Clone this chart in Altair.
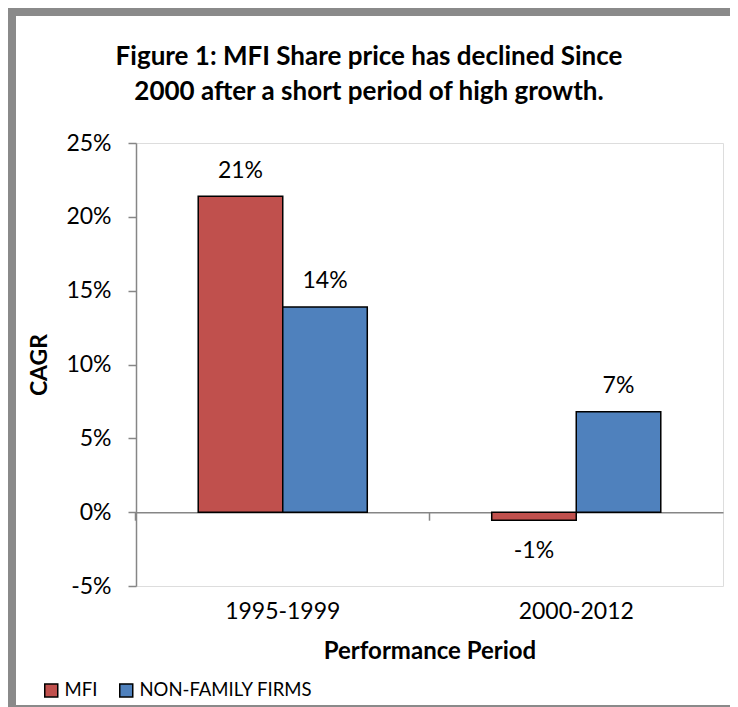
import altair as alt
import pandas as pd

periods = ["1995-1999", "2000-2012"]
series = ["MFI", "NON-FAMILY FIRMS"]
mfi_cagr = [21.4, -0.55]
nonfamily_cagr = [13.9, 6.8]
y_ticks = [-5, 0, 5, 10, 15, 20, 25]
title_lines = ["Figure 1: MFI Share price has declined Since",
               "2000 after a short period of high growth."]
colors = ["#C0504D", "#4F81BD"]

rows = []
for i, p in enumerate(periods):
    rows.append({"period": p, "series": series[0], "cagr": mfi_cagr[i]})
    rows.append({"period": p, "series": series[1], "cagr": nonfamily_cagr[i]})
df = pd.DataFrame(rows)

W, H = 587, 443
FONT = "Lato"
GRAY = "#868686"
FRAME = "#8a8a8a"
P_IN, P_OUT = 0.424, 0.212
BAND_POS = -P_OUT / (1 - P_IN)

base = alt.Chart(df).encode(
    x=alt.X("period:N", sort=periods,
            scale=alt.Scale(paddingInner=P_IN, paddingOuter=P_OUT),
            axis=alt.Axis(title="Performance Period", labelAngle=0, offset=-73.8,
                          bandPosition=BAND_POS, tickSize=8, tickColor=GRAY,
                          domainColor=GRAY, domainWidth=1.5, tickWidth=1.5,
                          labelFontSize=23, labelFont=FONT, labelColor="black",
                          labelPadding=80, titleFontSize=24, titleFont=FONT,
                          titleFontWeight="bold", titleColor="black", titlePadding=16,
                          grid=False)),
    xOffset=alt.XOffset("series:N", sort=series,
                        scale=alt.Scale(paddingInner=0, paddingOuter=0)),
    y=alt.Y("cagr:Q", scale=alt.Scale(domain=[-5, 25], nice=False, zero=False),
            axis=alt.Axis(values=y_ticks, labelExpr="datum.value + '%'", title="CAGR",
                          tickSize=8, tickColor=GRAY, domainColor=GRAY, domainWidth=1.5,
                          tickWidth=1.5, labelFontSize=23, labelFont=FONT,
                          labelColor="black", labelPadding=17, titleFontSize=23,
                          titleFont=FONT, titleFontWeight="bold", titleColor="black",
                          titlePadding=14, grid=False)),
)

bars = base.mark_bar(stroke="black", strokeWidth=1.5).encode(
    color=alt.Color("series:N", sort=series,
                    scale=alt.Scale(domain=series, range=colors),
                    legend=alt.Legend(title=None, orient="none", legendX=-94, legendY=538,
                                      direction="horizontal", symbolType="square",
                                      symbolSize=169, symbolStrokeColor="black",
                                      symbolStrokeWidth=1.5, labelFontSize=18.5,
                                      labelFont=FONT, labelColor="black", labelLimit=400,
                                      columnPadding=18, labelOffset=4))
)

pos_labels = base.transform_filter("datum.cagr >= 0").transform_calculate(
    label="round(datum.cagr) + '%'"
).mark_text(dy=-18.5, baseline="alphabetic", fontSize=23, font=FONT, color="black").encode(
    text="label:N")

neg_labels = base.transform_filter("datum.cagr < 0").transform_calculate(
    label="round(datum.cagr) + '%'"
).mark_text(dy=38, baseline="alphabetic", fontSize=23, font=FONT, color="black").encode(
    text="label:N")

one = pd.DataFrame({"f": [0]})
frame_left = alt.Chart(one).mark_rect(fill=FRAME).encode(
    x=alt.value(-128), x2=alt.value(-120), y=alt.value(-135), y2=alt.value(570))
frame_top = alt.Chart(one).mark_rect(fill=FRAME).encode(
    x=alt.value(-128), x2=alt.value(594), y=alt.value(-135), y2=alt.value(-127))
frame_bottom = alt.Chart(one).mark_rect(fill=FRAME).encode(
    x=alt.value(-128), x2=alt.value(594), y=alt.value(562), y2=alt.value(570))

title = alt.Chart(pd.DataFrame({"t": ["\n".join(title_lines)]})).mark_text(
    font=FONT, fontSize=26, fontWeight="bold", color="black", baseline="middle",
    align="center", lineBreak="\n", lineHeight=35
).encode(text="t:N", x=alt.value(233), y=alt.value(-86))

chart = alt.layer(frame_left, frame_top, frame_bottom, title, bars, pos_labels,
                  neg_labels).properties(
    width=W, height=H, padding=0,
).configure_view(fill="#E6E6E6", strokeWidth=0).configure(background="white")

chart.save("out.html", embed_options={"renderer": "svg", "actions": False})
